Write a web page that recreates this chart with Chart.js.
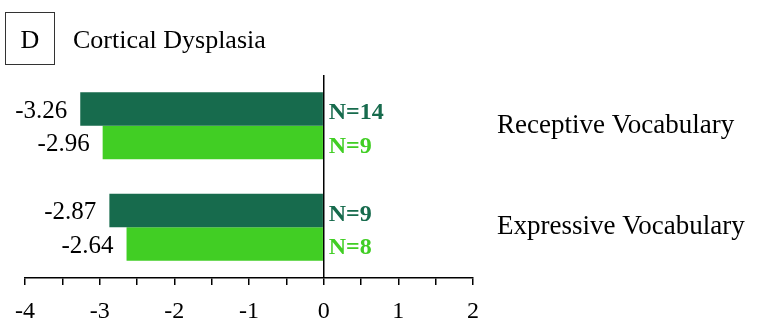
<!DOCTYPE html>
<html>
<head>
<meta charset="utf-8">
<script src="https://cdn.jsdelivr.net/npm/chart.js@4"></script>
<style>
  html, body { margin: 0; padding: 0; background: #fff; }
  #wrap { width: 771px; height: 325px; position: relative; }
</style>
</head>
<body>
<div id="wrap"><canvas id="c" width="771" height="325"></canvas></div>
<script>
// Measures and z-scores for the cortical dysplasia group
const categories = ['Receptive Vocabulary', 'Expressive Vocabulary'];
const groupA = [-3.26, -2.87];   // dark green series
const groupB = [-2.96, -2.64];   // light green series
const nA = [14, 9];
const nB = [9, 8];
const xTicksMin = -4;
const xTicksMax = 2;

const DARK = '#176B4D';
const LIGHT = '#41CE24';
const SERIF = '"Liberation Serif", "Times New Roman", serif';

// Panel letter + heading in the top-left corner
const headingPlugin = {
  id: 'heading',
  afterDraw(chart) {
    const ctx = chart.ctx;
    ctx.save();
    ctx.strokeStyle = '#333';
    ctx.lineWidth = 1;
    ctx.strokeRect(5.5, 12.5, 49, 52);
    ctx.fillStyle = '#000';
    ctx.font = '26px ' + SERIF;
    ctx.textAlign = 'center';
    ctx.textBaseline = 'alphabetic';
    ctx.fillText('D', 30, 48);
    ctx.textAlign = 'left';
    ctx.fillText('Cortical Dysplasia', 73, 48);
    ctx.restore();
  }
};

// Value labels left of each bar and sample sizes right of the zero line
const barLabelsPlugin = {
  id: 'barLabels',
  afterDatasetsDraw(chart) {
    const ctx = chart.ctx;
    const zeroX = chart.scales.x.getPixelForValue(0);
    const counts = [nA, nB];
    ctx.save();
    chart.data.datasets.forEach((ds, di) => {
      const meta = chart.getDatasetMeta(di);
      meta.data.forEach((bar, i) => {
        const v = ds.data[i];
        ctx.fillStyle = '#000';
        ctx.font = '25px ' + SERIF;
        ctx.textAlign = 'right';
        ctx.textBaseline = 'middle';
        ctx.fillText(v.toFixed(2), bar.x - 13, bar.y + 2);
        ctx.fillStyle = ds.backgroundColor;
        ctx.font = 'bold 24px ' + SERIF;
        ctx.textAlign = 'left';
        ctx.fillText('N=' + counts[di][i], zeroX + 5, bar.y + 4);
      });
    });
    ctx.restore();
  }
};

function draw() {
  new Chart(document.getElementById('c'), {
    type: 'bar',
    data: {
      labels: categories,
      datasets: [
        { label: 'A', data: groupA, backgroundColor: DARK, borderWidth: 0 },
        { label: 'B', data: groupB, backgroundColor: LIGHT, borderWidth: 0 }
      ]
    },
    options: {
      indexAxis: 'y',
      responsive: false,
      animation: false,
      devicePixelRatio: 1,
      layout: { padding: { top: 75, left: 25, right: 0, bottom: 0 } },
      datasets: { bar: { categoryPercentage: 0.66, barPercentage: 1.0 } },
      plugins: { legend: { display: false }, tooltip: { enabled: false }, title: { display: false } },
      scales: {
        x: {
          type: 'linear',
          position: 'bottom',
          min: xTicksMin,
          max: xTicksMax,
          ticks: {
            stepSize: 0.5,
            autoSkip: false,
            maxRotation: 0,
            color: '#000',
            font: { family: SERIF, size: 24 },
            padding: 12,
            callback: (v) => Number.isInteger(v) ? String(v) : ''
          },
          grid: {
            drawOnChartArea: true,
            color: (c) => (c.tick && c.tick.value === 0) ? '#000' : 'rgba(0,0,0,0)',
            lineWidth: 1.5,
            tickColor: '#000',
            tickLength: 7,
            tickWidth: 1.5
          },
          border: { display: true, color: '#000', width: 1.5 },
          afterFit(scale) { scale.height = 47; }
        },
        y: {
          type: 'category',
          position: 'right',
          offset: true,
          ticks: {
            color: '#000',
            font: { family: SERIF, size: 27 },
            padding: 16,
            crossAlign: 'near'
          },
          grid: { display: false },
          border: { display: false },
          afterFit(scale) { scale.width = 298; }
        }
      }
    },
    plugins: [headingPlugin, barLabelsPlugin]
  });
}

// make sure the serif faces are ready before painting on the canvas
Promise.all([
  document.fonts.load('24px "Liberation Serif"'),
  document.fonts.load('bold 24px "Liberation Serif"')
]).then(draw, draw);
</script>
</body>
</html>
